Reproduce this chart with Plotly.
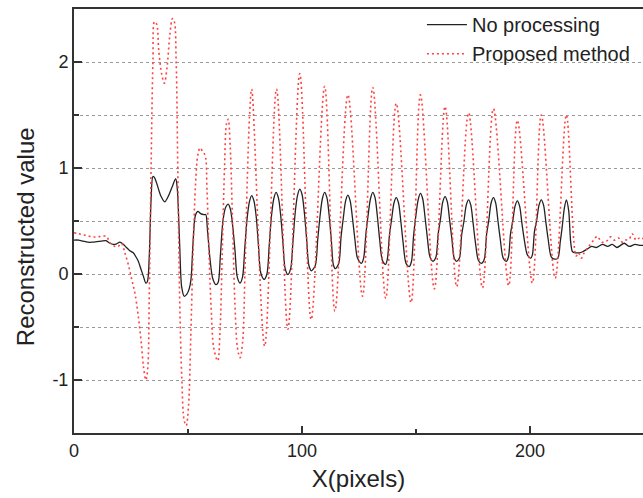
import plotly.graph_objects as go

# ---- data ----
x_black = [0, 2, 4, 6, 8, 10, 12, 14, 15.8, 17.2, 18.7, 20.1, 21.6, 23, 24.5, 26, 27.2, 28.2, 29.3, 30.4,
           31.5, 32.2, 33, 33.8, 34.6, 35.3, 36.5, 38, 39.8, 41.5, 43, 44.6, 45.3, 46.3, 47.2, 48.3, 49.5,
           50.5, 51.3, 52.2, 53.2, 54.3, 55.5, 57, 57.8, 58.5, 59.6, 60.8, 62.2, 63.2, 64.2, 65.3, 66.5, 67.6,
           68.6, 69.6, 70.6, 71.6, 72.8, 73.9, 74.9, 75.9, 76.9, 77.9,
           78.9, 79.9, 80.9, 81.9, 83.4, 84.6, 85.6, 86.6, 87.6, 88.6,
           89.6, 90.6, 91.6, 92.6, 93.8, 95.0, 96.0, 97.0, 98.0, 99.0,
           100.0, 101.0, 102.0, 103.0, 104.1, 105.8, 106.9, 107.9, 108.9, 109.9,
           110.9, 111.9, 112.9, 113.7, 114.6, 116.1, 117.1, 118.1, 119.1, 120.1,
           121.1, 122.1, 123.1, 124.3, 126.0, 127.0, 128.0, 129.0, 130.0, 131.0,
           132.0, 133.0, 134.0, 135.2, 136.6, 137.4, 138.3, 139.3, 140.3, 141.3,
           142.3, 143.3, 144.3, 145.6, 147.0, 148.0, 148.9, 149.9, 150.9, 151.9,
           152.9, 153.9, 154.9, 156.1, 157.4, 158.7, 159.7, 160.7, 161.7, 162.7,
           163.7, 164.7, 165.7, 166.7, 167.7, 169.0, 170.0, 171.0, 172.0, 173.0,
           174.0, 175.0, 176.0, 177.3, 178.6, 179.9, 180.9, 181.9, 182.9, 183.9,
           184.9, 185.9, 186.9, 188.2, 189.6, 190.5, 191.4, 192.4, 193.4, 194.4,
           195.4, 196.4, 197.4, 198.8, 200.3, 201.0, 201.9, 202.9, 203.9, 204.9,
           205.9, 206.9, 207.9, 209.3, 210.8, 212.2, 213.2, 214.1, 215.0, 215.9,
           216.9, 217.8, 218.6, 220.0, 221.5, 223, 225, 227, 229, 231.7, 234, 236, 238, 241.3, 243.5,
           246, 248, 250]
y_black = [0.32, 0.32, 0.31, 0.30, 0.30, 0.305, 0.31, 0.315, 0.29, 0.28, 0.285, 0.30, 0.28, 0.25, 0.22, 0.20,
           0.16, 0.12, 0.05, -0.02, -0.085, -0.07, 0.17, 0.70, 0.92, 0.91, 0.84, 0.74, 0.68, 0.74, 0.82, 0.90,
           0.80, 0.30, -0.12, -0.21, -0.19, -0.14, -0.05, 0.30, 0.55, 0.59, 0.57, 0.56, 0.56, 0.42, 0.15,
           -0.04, -0.10, -0.08, 0.18, 0.50, 0.63, 0.66,
           0.61, 0.45, 0.22, -0.03, -0.085, -0.03, 0.25, 0.52, 0.68, 0.74,
           0.69, 0.54, 0.26, 0.01, -0.05, 0.0, 0.27, 0.55, 0.71, 0.77,
           0.72, 0.56, 0.30, 0.05, -0.005, 0.05, 0.30, 0.58, 0.74, 0.80,
           0.75, 0.58, 0.33, 0.08, 0.03, 0.08, 0.33, 0.55, 0.71, 0.77,
           0.72, 0.55, 0.30, 0.09, 0.05, 0.10, 0.35, 0.53, 0.69, 0.745,
           0.69, 0.53, 0.34, 0.15, 0.10, 0.15, 0.38, 0.56, 0.71, 0.77,
           0.72, 0.55, 0.33, 0.13, 0.09, 0.14, 0.36, 0.52, 0.67, 0.72,
           0.67, 0.50, 0.30, 0.10, 0.07, 0.12, 0.36, 0.55, 0.70, 0.76,
           0.71, 0.54, 0.35, 0.16, 0.12, 0.16, 0.38, 0.52, 0.68, 0.73,
           0.68, 0.51, 0.33, 0.15, 0.12, 0.15, 0.37, 0.50, 0.65, 0.70,
           0.65, 0.48, 0.30, 0.13, 0.10, 0.14, 0.37, 0.51, 0.67, 0.72,
           0.67, 0.50, 0.33, 0.15, 0.12, 0.16, 0.38, 0.50, 0.64, 0.69,
           0.64, 0.48, 0.33, 0.18, 0.15, 0.18, 0.40, 0.51, 0.65, 0.70,
           0.65, 0.49, 0.33, 0.16, 0.14, 0.15, 0.30, 0.45, 0.62, 0.70,
           0.60, 0.30, 0.21, 0.20, 0.20, 0.21, 0.235, 0.26, 0.25, 0.28, 0.26, 0.28, 0.25, 0.29, 0.26,
           0.28, 0.27, 0.27]

x_red = [0, 2, 4, 6, 8, 10, 12, 14.3, 15.5, 16.5, 18, 19.4, 20.8, 22.3, 23.8, 25.3, 26.7, 28.2, 29.5, 30.5,
         31.5, 32.3, 33, 33.8, 34.6, 35.3, 36.2, 37.2, 38.5, 39.6, 40.8, 42.0, 43.2, 44.0, 44.8, 45.5, 46.3,
         47.3, 48.3, 49.2, 50.2, 51.2, 52.2, 53.3, 54.3, 55.3, 56.5, 57.5, 58.3, 59.2, 60.2, 61.3, 63.0,
         64.0, 65.0, 66.0, 66.9, 67.6, 68.5, 69.5, 70.6, 71.7, 72.8, 73.9, 75.0, 76.0, 77.0, 77.9,
         83.6, 88.8, 93.8, 99.0, 104.0, 109.9, 114.4, 120.1, 126.5, 131.0, 136.7, 141.3, 147.8, 151.9,
         158.0, 162.7, 167.8, 173.0, 179.1, 183.9, 190.6, 194.4, 201.0, 204.9, 211.0, 215.9,
         220.2, 221.2, 222.5, 223.7, 225.7, 227.9, 229.4, 231.5, 233.5, 235.3, 237, 238.7, 240.5, 242,
         243.5, 244.7, 246.5, 248, 250]
y_red = [0.39, 0.38, 0.37, 0.36, 0.35, 0.35, 0.355, 0.355, 0.30, 0.28, 0.26, 0.26, 0.29, 0.20, 0.09, -0.05,
         -0.18, -0.40, -0.65, -0.88, -1.0, -0.9, -0.2, 1.0, 2.0, 2.38, 2.36, 2.1, 1.88, 1.80, 1.95, 2.25,
         2.41, 2.38, 2.0, 1.0, -0.2, -1.0, -1.38, -1.43, -1.25, -0.6, 0.2, 0.85, 1.12, 1.19, 1.15, 1.12,
         0.80, 0.2, -0.35, -0.70, -0.82, -0.55, 0.2, 1.0, 1.42, 1.46, 1.2, 0.5, -0.3, -0.7, -0.79, -0.65,
         0.05, 0.9, 1.5, 1.745,
         -0.68, 1.745, -0.52, 1.89, -0.43, 1.77, -0.35, 1.69, -0.21, 1.76, -0.23, 1.61, -0.27, 1.69,
         -0.14, 1.58, -0.12, 1.52, -0.13, 1.56, -0.11, 1.45, -0.085, 1.50, -0.04, 1.50,
         0.17, 0.20, 0.15, 0.20, 0.26, 0.32, 0.355, 0.30, 0.31, 0.35, 0.32, 0.34, 0.30, 0.32,
         0.33, 0.38, 0.32, 0.34, 0.33]

x_ticks = [0, 100, 200]
y_ticks = [-1, 0, 1, 2]

FONT = "Liberation Sans, Arial, sans-serif"

fig = go.Figure()
fig.add_trace(go.Scatter(
    x=x_black, y=y_black, mode="lines", name="No processing",
    line=dict(color="#222222", width=1.3, shape="spline", smoothing=0.8)))
fig.add_trace(go.Scatter(
    x=x_red, y=y_red, mode="lines", name="Proposed method",
    line=dict(color="#ff4040", width=1.6, dash="2px,3px", shape="spline", smoothing=1.0)))

fig.update_layout(
    width=643, height=498,
    margin=dict(l=74, r=0, t=9, b=65),
    paper_bgcolor="white", plot_bgcolor="white",
    font=dict(family=FONT, color="#222222"),
    showlegend=True,
    legend=dict(x=0.6115, y=1.009, xanchor="left", yanchor="top",
                bgcolor="rgba(0,0,0,0)", font=dict(size=20, family=FONT, color="#222"),
                tracegroupgap=0, itemwidth=40),
    annotations=[dict(text="Reconstructed value", textangle=-90, showarrow=False,
                      xref="paper", yref="paper", x=-0.086, y=0.462,
                      xanchor="center", yanchor="middle",
                      font=dict(size=24, family=FONT, color="#222"))],
)
fig.update_xaxes(
    automargin=False,
    range=[0, 249.5], tickvals=x_ticks, ticktext=[str(v) for v in x_ticks],
    ticks="inside", ticklen=7, tickwidth=1.5, tickcolor="#333",
    showline=True, linecolor="#333", linewidth=2, mirror=True,
    showgrid=False, zeroline=False,
    tickfont=dict(size=18, family=FONT, color="#222"),
    minor=dict(tickvals=[50, 150], ticks="inside", ticklen=4, tickcolor="#333", tickwidth=1.5, showgrid=False),
    title=dict(text="X(pixels)", font=dict(size=24, family=FONT, color="#222"), standoff=11),
)
fig.update_yaxes(
    automargin=False,
    range=[-1.5, 2.5], tickvals=y_ticks, ticktext=[str(v) for v in y_ticks],
    ticks="inside", ticklen=8, tickwidth=1.5, tickcolor="#333",
    showline=True, linecolor="#333", linewidth=2,
    showgrid=True, gridcolor="#9a9a9a", gridwidth=1, griddash="dot",
    zeroline=False,
    tickfont=dict(size=18, family=FONT, color="#222"),
    minor=dict(tickvals=[-0.5, 0.5, 1.5], ticks="inside", ticklen=5, tickcolor="#333", tickwidth=1.5,
               showgrid=True, gridcolor="#9a9a9a", gridwidth=1, griddash="dot"),
)

fig.write_html("out.html",
               config={"displayModeBar": False},
               post_script="document.body.style.margin='0';document.body.style.overflow='hidden';")
